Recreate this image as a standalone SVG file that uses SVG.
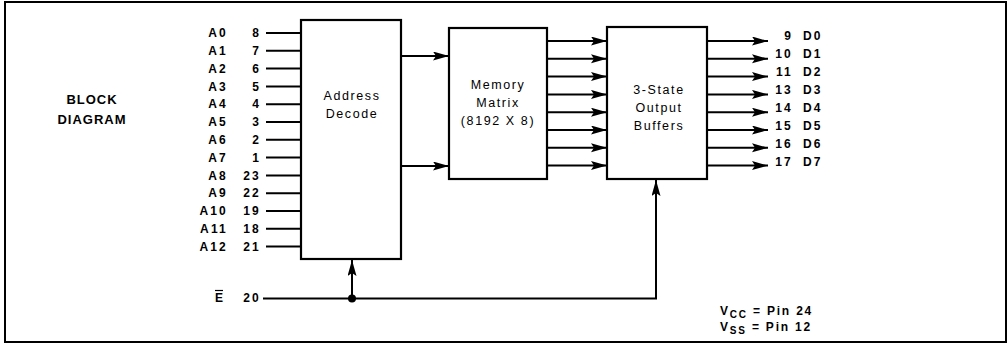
<svg xmlns="http://www.w3.org/2000/svg" width="1008" height="345" viewBox="0 0 1008 345">
<style>
.ln{stroke:#000;stroke-width:2;fill:none}
.box{stroke:#000;stroke-width:2.2;fill:#fff}
.pin{font-family:"Liberation Sans",Arial,sans-serif;font-size:12px;font-weight:bold;letter-spacing:2.2px;fill:#000}
.blk{font-family:"Liberation Sans",Arial,sans-serif;font-size:12.5px;letter-spacing:1.6px;fill:#000;text-anchor:middle}
.ttl{font-family:"Liberation Sans",Arial,sans-serif;font-size:13px;font-weight:bold;letter-spacing:1px;fill:#000;text-anchor:middle}
.pw{font-family:"Liberation Sans",Arial,sans-serif;font-size:12px;font-weight:bold;letter-spacing:1.8px;fill:#000}
.r{text-anchor:end}
</style>
<defs>
<marker id="ah" markerUnits="userSpaceOnUse" markerWidth="17" markerHeight="10" refX="16" refY="4.5" orient="auto">
<path d="M0,0 L16,4.5 L0,9 L3,4.5 z" fill="#000"/>
</marker>
</defs>
<rect x="0" y="0" width="1008" height="345" fill="#fff"/>
<rect id="frame" x="5" y="2" width="1001" height="340" fill="none" stroke="#000" stroke-width="2"/>
<g id="title">
<text class="ttl" x="92" y="104">BLOCK</text>
<text class="ttl" x="92" y="124">DIAGRAM</text>
</g>
<g id="address-decode">
<rect class="box" x="301" y="20" width="100" height="239"/>
<text class="blk" x="352" y="100">Address</text>
<text class="blk" x="352" y="118">Decode</text>
</g>
<g id="memory-matrix">
<rect class="box" x="449" y="28" width="98" height="151"/>
<text class="blk" x="498" y="89">Memory</text>
<text class="blk" x="498" y="107">Matrix</text>
<text class="blk" x="498" y="125">(8192 X 8)</text>
</g>
<g id="output-buffers">
<rect class="box" x="607" y="27" width="100" height="152"/>
<text class="blk" x="659" y="94">3-State</text>
<text class="blk" x="659" y="112">Output</text>
<text class="blk" x="659" y="130">Buffers</text>
</g>
<g id="address-pins">
<text class="pin r" x="228" y="37">A0</text><text class="pin r" x="261" y="37">8</text>
<text class="pin r" x="228" y="55">A1</text><text class="pin r" x="261" y="55">7</text>
<text class="pin r" x="228" y="73">A2</text><text class="pin r" x="261" y="73">6</text>
<text class="pin r" x="228" y="91">A3</text><text class="pin r" x="261" y="91">5</text>
<text class="pin r" x="228" y="108">A4</text><text class="pin r" x="261" y="108">4</text>
<text class="pin r" x="228" y="126">A5</text><text class="pin r" x="261" y="126">3</text>
<text class="pin r" x="228" y="144">A6</text><text class="pin r" x="261" y="144">2</text>
<text class="pin r" x="228" y="162">A7</text><text class="pin r" x="261" y="162">1</text>
<text class="pin r" x="228" y="180">A8</text><text class="pin r" x="261" y="180">23</text>
<text class="pin r" x="228" y="197">A9</text><text class="pin r" x="261" y="197">22</text>
<text class="pin r" x="228" y="215">A10</text><text class="pin r" x="261" y="215">19</text>
<text class="pin r" x="228" y="233">A11</text><text class="pin r" x="261" y="233">18</text>
<text class="pin r" x="228" y="251">A12</text><text class="pin r" x="261" y="251">21</text>
</g>
<g id="enable-pin">
<text class="pin" x="215" y="302">E</text>
<line x1="215" y1="290.5" x2="223" y2="290.5" stroke="#000" stroke-width="1.2"/>
<text class="pin r" x="261" y="302">20</text>
</g>
<g id="data-pins">
<text class="pin r" x="793" y="40">9</text><text class="pin" x="803" y="40">D0</text>
<text class="pin r" x="793" y="58">10</text><text class="pin" x="803" y="58">D1</text>
<text class="pin r" x="793" y="76">11</text><text class="pin" x="803" y="76">D2</text>
<text class="pin r" x="793" y="94">13</text><text class="pin" x="803" y="94">D3</text>
<text class="pin r" x="793" y="112">14</text><text class="pin" x="803" y="112">D4</text>
<text class="pin r" x="793" y="130">15</text><text class="pin" x="803" y="130">D5</text>
<text class="pin r" x="793" y="148">16</text><text class="pin" x="803" y="148">D6</text>
<text class="pin r" x="793" y="166">17</text><text class="pin" x="803" y="166">D7</text>
</g>
<g id="power-note">
<text class="pw" x="720" y="315">V<tspan font-size="10" dy="3">CC</tspan><tspan dy="-3"> = Pin 24</tspan></text>
<text class="pw" x="720" y="331">V<tspan font-size="10" dy="3">SS</tspan><tspan dy="-3"> = Pin 12</tspan></text>
</g>
<g id="connectors">
<path class="ln" d="M266,33H301 M266,50.8H301 M266,68.6H301 M266,86.4H301 M266,104.2H301 M266,122H301 M266,139.8H301 M266,157.6H301 M266,175.4H301 M266,193.2H301 M266,211H301 M266,228.8H301 M266,246.6H301"/>
<line class="ln" x1="401" y1="56" x2="449" y2="56" marker-end="url(#ah)"/>
<line class="ln" x1="401" y1="166" x2="449" y2="166" marker-end="url(#ah)"/>
<line class="ln" x1="547" y1="41" x2="607" y2="41" marker-end="url(#ah)"/>
<line class="ln" x1="547" y1="58.8" x2="607" y2="58.8" marker-end="url(#ah)"/>
<line class="ln" x1="547" y1="76.6" x2="607" y2="76.6" marker-end="url(#ah)"/>
<line class="ln" x1="547" y1="94.4" x2="607" y2="94.4" marker-end="url(#ah)"/>
<line class="ln" x1="547" y1="112.2" x2="607" y2="112.2" marker-end="url(#ah)"/>
<line class="ln" x1="547" y1="130" x2="607" y2="130" marker-end="url(#ah)"/>
<line class="ln" x1="547" y1="147.8" x2="607" y2="147.8" marker-end="url(#ah)"/>
<line class="ln" x1="547" y1="165.6" x2="607" y2="165.6" marker-end="url(#ah)"/>
<line class="ln" x1="707" y1="41" x2="768" y2="41" marker-end="url(#ah)"/>
<line class="ln" x1="707" y1="58.8" x2="768" y2="58.8" marker-end="url(#ah)"/>
<line class="ln" x1="707" y1="76.6" x2="768" y2="76.6" marker-end="url(#ah)"/>
<line class="ln" x1="707" y1="94.4" x2="768" y2="94.4" marker-end="url(#ah)"/>
<line class="ln" x1="707" y1="112.2" x2="768" y2="112.2" marker-end="url(#ah)"/>
<line class="ln" x1="707" y1="130" x2="768" y2="130" marker-end="url(#ah)"/>
<line class="ln" x1="707" y1="147.8" x2="768" y2="147.8" marker-end="url(#ah)"/>
<line class="ln" x1="707" y1="165.6" x2="768" y2="165.6" marker-end="url(#ah)"/>
<polyline class="ln" points="263,298.5 656,298.5 656,180" marker-end="url(#ah)"/>
<line class="ln" x1="352" y1="298.5" x2="352" y2="260" marker-end="url(#ah)"/>
<circle cx="352" cy="298.5" r="4" fill="#000"/>
</g>
</svg>
